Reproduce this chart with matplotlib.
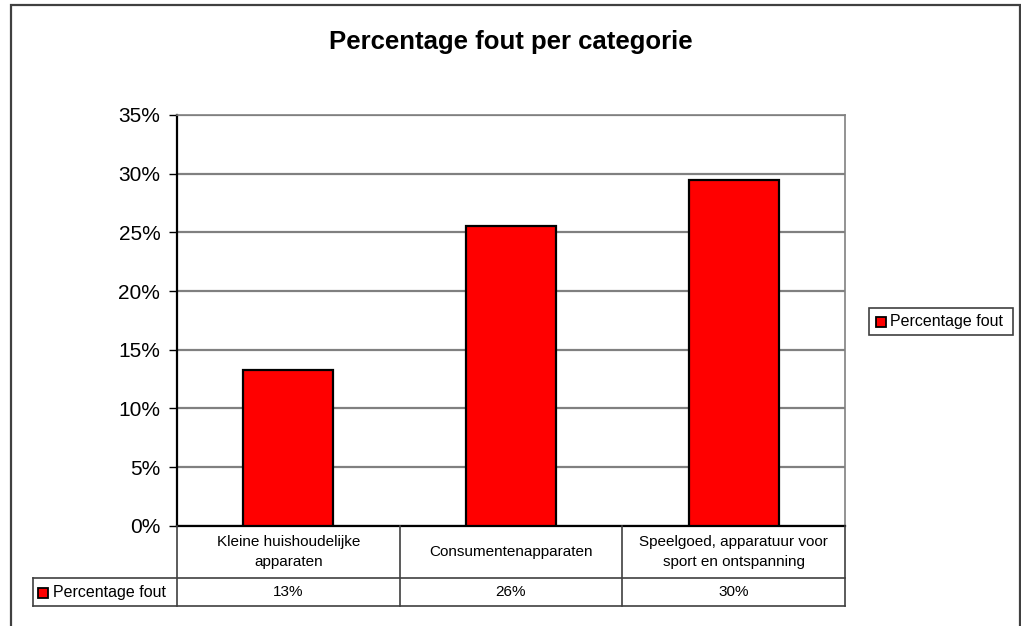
import matplotlib
matplotlib.use("Agg")
import matplotlib.pyplot as plt
from matplotlib.lines import Line2D
from matplotlib.patches import Rectangle
import numpy as np

plt.rcParams['font.family'] = ['Liberation Sans', 'DejaVu Sans']

categories = ["Kleine huishoudelijke\napparaten",
              "Consumentenapparaten",
              "Speelgoed, apparatuur voor\nsport en ontspanning"]
values = [13.3, 25.5, 29.5]          # percent
series_name = "Percentage fout"
yticks = [0, 5, 10, 15, 20, 25, 30, 35]
title = "Percentage fout per categorie"

W, H = 1021, 626
fig = plt.figure(figsize=(W / 100, H / 100), dpi=100)

def fx(px):
    return px / W

def fy(py):
    return 1 - py / H

# plot area in pixels
L, R, T, B = 177, 845, 115, 525.7
ax = fig.add_axes([fx(L), fy(B), fx(R) - fx(L), fy(T) - fy(B)])

x = np.arange(len(categories))
ax.bar(x, values, width=0.405, color='#ff0000', edgecolor='black', linewidth=1.6, zorder=3)
ax.set_xlim(-0.5, len(categories) - 0.5)
ax.set_ylim(0, 35)
ax.set_yticks(yticks)
ax.set_yticklabels([f"{v}%" for v in yticks], fontsize=15)
ax.tick_params(axis='y', length=6, width=1, color='black', pad=6)
ax.set_xticks([])
ax.grid(axis='y', color='#808080', linewidth=1.6, zorder=0)
for s in ['top', 'right']:
    ax.spines[s].set_color('#808080')
    ax.spines[s].set_linewidth(1.2)
ax.spines['left'].set_color('black')
ax.spines['left'].set_linewidth(1.6)
ax.spines['bottom'].set_color('black')
ax.spines['bottom'].set_linewidth(1.6)

# title
fig.text(0.5, fy(49), title, ha='center', va='baseline', fontsize=18.5, fontweight='bold')

# data table
row1_bot, row2_bot = 578, 606
tbl_left = 33
line_kw = dict(color='#404040', linewidth=1.2)
col_edges = [L + (R - L) * i / len(categories) for i in range(len(categories) + 1)]
for cx in col_edges:
    fig.add_artist(Line2D([fx(cx), fx(cx)], [fy(B), fy(row2_bot)], **line_kw))
for ry in [row1_bot, row2_bot]:
    fig.add_artist(Line2D([fx(tbl_left), fx(R)], [fy(ry), fy(ry)], **line_kw))
fig.add_artist(Line2D([fx(tbl_left), fx(tbl_left)], [fy(row1_bot), fy(row2_bot)], **line_kw))

def half_up(v):
    return int(np.floor(v + 0.5))

for i, (cat, v) in enumerate(zip(categories, values)):
    cxm = (col_edges[i] + col_edges[i + 1]) / 2
    fig.text(fx(cxm), fy((B + row1_bot) / 2), cat, ha='center', va='center',
             fontsize=11, linespacing=1.55)
    fig.text(fx(cxm), fy((row1_bot + row2_bot) / 2), f"{half_up(v)}%", ha='center',
             va='center', fontsize=11)

# row label with key
fig.add_artist(Rectangle((fx(38), fy(598)), fx(10), fy(588) - fy(598), facecolor='#ff0000',
                         edgecolor='black', linewidth=1.3))
fig.text(fx(53), fy((row1_bot + row2_bot) / 2), series_name, ha='left', va='center', fontsize=11.5)

# legend
fig.add_artist(Rectangle((fx(869), fy(335)), fx(1013) - fx(869), fy(308) - fy(335),
                         facecolor='white', edgecolor='#404040', linewidth=1.2))
fig.add_artist(Rectangle((fx(876), fy(327)), fx(10), fy(317) - fy(327), facecolor='#ff0000',
                         edgecolor='black', linewidth=1.3))
fig.text(fx(890), fy(321.5), series_name, ha='left', va='center', fontsize=11.5)

# outer chart border
fig.add_artist(Rectangle((fx(11), fy(660)), fx(1020) - fx(11), fy(5) - fy(660),
                         facecolor='none', edgecolor='#404040', linewidth=1.6))

fig.savefig("out.png", dpi=100)
